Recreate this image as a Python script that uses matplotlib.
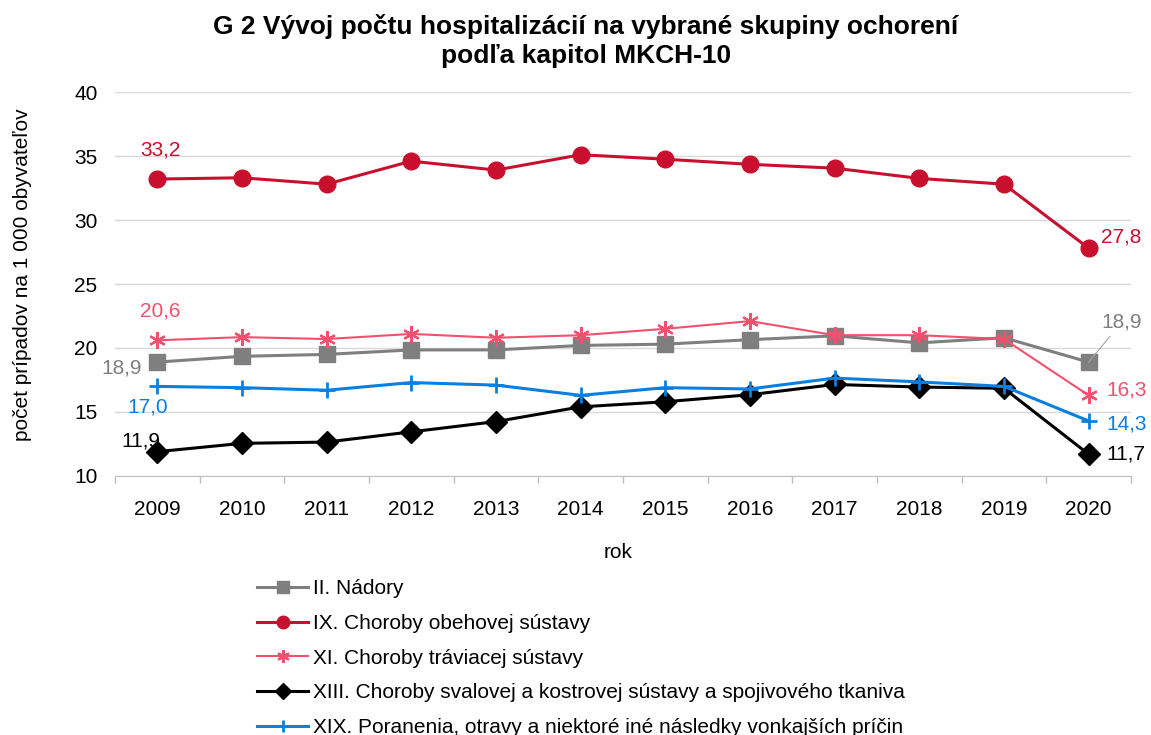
import matplotlib
matplotlib.use('Agg')
import matplotlib.pyplot as plt

plt.rcParams['font.family'] = ['Liberation Sans', 'DejaVu Sans']

# data
years = ['2009', '2010', '2011', '2012', '2013', '2014', '2015', '2016', '2017', '2018', '2019', '2020']
nadory = [18.9, 19.35, 19.5, 19.85, 19.85, 20.2, 20.3, 20.65, 20.95, 20.4, 20.8, 18.9]
obehova = [33.2, 33.3, 32.8, 34.6, 33.9, 35.1, 34.75, 34.35, 34.05, 33.25, 32.8, 27.8]
traviaca = [20.6, 20.85, 20.7, 21.1, 20.8, 21.0, 21.5, 22.1, 21.0, 21.0, 20.7, 16.3]
svalova = [11.9, 12.55, 12.65, 13.45, 14.25, 15.4, 15.8, 16.35, 17.15, 16.95, 16.85, 11.7]
poranenia = [17.0, 16.9, 16.7, 17.3, 17.1, 16.3, 16.9, 16.8, 17.65, 17.35, 17.0, 14.3]

labels = ['II. Nádory',
          'IX. Choroby obehovej sústavy',
          'XI. Choroby tráviacej sústavy',
          'XIII. Choroby svalovej a kostrovej sústavy a spojivového tkaniva',
          'XIX. Poranenia, otravy a niektoré iné následky vonkajších príčin']

c_gray = '#7f7f7f'
c_red = '#c8102e'
c_pink = '#f2506e'
c_black = '#000000'
c_blue = '#0a7fe0'

fs = 15

fig = plt.figure(figsize=(11.51, 7.35), dpi=100)
ax = fig.add_axes([0.0999, 0.3524, 0.8827, 0.5224])

x = list(range(len(years)))
ax.plot(x, nadory, color=c_gray, lw=2.2, marker='s', ms=11, label=labels[0], zorder=3)
ax.plot(x, obehova, color=c_red, lw=2.2, marker='o', ms=12, label=labels[1], zorder=3)
ax.plot(x, traviaca, color=c_pink, lw=1.5, marker=(6, 2, 0), ms=12, mew=1.6, label=labels[2], zorder=3)
ax.plot(x, svalova, color=c_black, lw=2.2, marker='D', ms=11, label=labels[3], zorder=3)
ax.plot(x, poranenia, color=c_blue, lw=2.2, marker='+', ms=12, mew=2, label=labels[4], zorder=3)

ax.set_xlim(-0.5, len(years) - 0.5)
ax.set_ylim(10, 40)
ax.set_yticks(range(10, 41, 5))
ax.set_xticks(x)
ax.set_xticklabels(years)
ax.set_xticks([i - 0.5 for i in range(len(years) + 1)], minor=True)
ax.tick_params(axis='x', which='major', length=0, pad=17, labelsize=fs)
ax.tick_params(axis='x', which='minor', length=5, color='#bfbfbf', width=1)
ax.tick_params(axis='y', length=0, pad=12.5, labelsize=fs)
ax.grid(axis='y', color='#d9d9d9', lw=1)
ax.set_axisbelow(True)
for s in ['top', 'right', 'left']:
    ax.spines[s].set_visible(False)
ax.spines['bottom'].set_color('#bfbfbf')

# data labels
ax.annotate('33,2', (0, obehova[0]), xytext=(2, 21), textcoords='offset points',
            ha='center', va='center', color=c_red, fontsize=fs)
ax.annotate('27,8', (11, obehova[-1]), xytext=(9, 8), textcoords='offset points',
            ha='left', va='center', color=c_red, fontsize=fs)
ax.annotate('20,6', (0, traviaca[0]), xytext=(2, 21), textcoords='offset points',
            ha='center', va='center', color=c_pink, fontsize=fs)
ax.annotate('16,3', (11, traviaca[-1]), xytext=(13, 4), textcoords='offset points',
            ha='left', va='center', color=c_pink, fontsize=fs)
ax.annotate('18,9', (0, nadory[0]), xytext=(-11, -4), textcoords='offset points',
            ha='right', va='center', color=c_gray, fontsize=fs)
ax.annotate('18,9', (11, nadory[-1]), xytext=(24, 29), textcoords='offset points',
            ha='center', va='center', color=c_gray, fontsize=fs,
            arrowprops=dict(arrowstyle='-', color='#a6a6a6', lw=0.8, shrinkA=2, shrinkB=0))
ax.annotate('17,0', (0, poranenia[0]), xytext=(-7, -15), textcoords='offset points',
            ha='center', va='center', color=c_blue, fontsize=fs)
ax.annotate('14,3', (11, poranenia[-1]), xytext=(13, -2), textcoords='offset points',
            ha='left', va='center', color=c_blue, fontsize=fs)
ax.annotate('11,9', (0, svalova[0]), xytext=(-12, 8), textcoords='offset points',
            ha='center', va='center', color=c_black, fontsize=fs)
ax.annotate('11,7', (11, svalova[-1]), xytext=(13, 0), textcoords='offset points',
            ha='left', va='center', color=c_black, fontsize=fs)

fig.text(0.509, 1 - 41 / 735, 'G 2 Vývoj počtu hospitalizácií na vybrané skupiny ochorení\npodľa kapitol MKCH-10',
         ha='center', va='center', fontsize=19, fontweight='bold', linespacing=1.28)
fig.text(23 / 1151, 1 - 275 / 735, 'počet prípadov na 1 000 obyvateľov', rotation=90,
         ha='center', va='center', fontsize=fs)
fig.text(618 / 1151, 1 - 552 / 735, 'rok', ha='center', va='center', fontsize=fs)

leg = fig.legend(loc='upper left', bbox_to_anchor=(257 / 1151, 1 - 579 / 735),
                 frameon=False, fontsize=fs, handlelength=2.45, handletextpad=0.25,
                 labelspacing=0.76, markerscale=0.75, borderaxespad=0, borderpad=0)

fig.savefig('out.png', dpi=100)
